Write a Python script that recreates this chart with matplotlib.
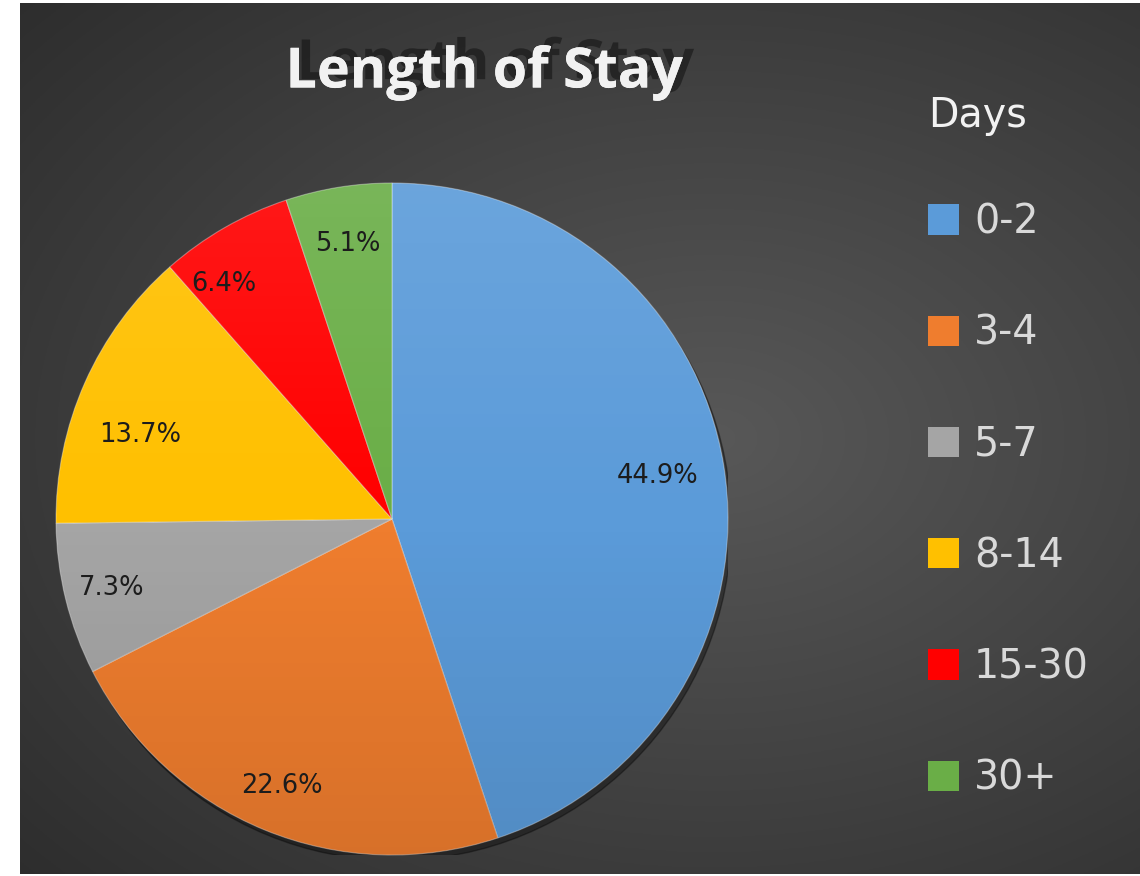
import numpy as np
import matplotlib
matplotlib.use("Agg")
import matplotlib.pyplot as plt
import matplotlib.patheffects as pe

# data
categories = ["0-2", "3-4", "5-7", "8-14", "15-30", "30+"]
shares = [44.9, 22.6, 7.3, 13.7, 6.4, 5.1]
colors = ["#5b9bd9", "#ef7d2e", "#a5a5a5", "#ffc000", "#ff0000", "#6aae47"]
label_dist = [0.80, 0.86, 0.86, 0.79, 0.86, 0.83]
label_shift = [0, 0, 0, 5.6, 5.7, 0]

W, H = 1140, 876
fig = plt.figure(figsize=(W / 100, H / 100), dpi=100, facecolor="white")

# dark radial background
bg = fig.add_axes([20 / W, 2 / H, 1 - 20 / W, 1 - 5 / H])
bg.set_axis_off()
yy, xx = np.mgrid[0:1:400j, 0:1:500j]
r = np.sqrt(((xx - 0.62) / 1.0) ** 2 + ((yy - 0.5) / 0.9) ** 2)
shade = np.clip(0.345 - 0.2 * r, 0.17, 0.35)
bg.imshow(np.dstack([shade] * 3), extent=[0, 1, 0, 1], aspect="auto", origin="lower")
bg.set_xlim(0, 1)
bg.set_ylim(0, 1)

# pie
cx, cy, rad = 392, 519, 336
ax = fig.add_axes([(cx - rad) / W, (H - cy - rad) / H, 2 * rad / W, 2 * rad / H])
ax.set_axis_off()
shadow = plt.Circle((0.01, -0.016), 1.0, color="black", alpha=0.35, zorder=0)
ax.add_patch(shadow)
wedges, _ = ax.pie(shares, colors=colors, startangle=90, counterclock=False,
                   radius=1.0, wedgeprops=dict(edgecolor=(1, 1, 1, 0.35), linewidth=0.8))

# soft vertical gradient over the pie
g = np.linspace(0, 1, 256)[:, None] * np.ones((1, 4))
over = np.zeros((256, 4, 4))
over[..., :3] = (g[..., None] > 0.5) * 1.0
over[..., 3] = np.abs(g - 0.5) * 0.2
im = ax.imshow(over, extent=[-1, 1, -1, 1], origin="lower", aspect="auto", zorder=3)
im.set_clip_path(plt.Circle((0, 0), 1.0, transform=ax.transData))
ax.set_xlim(-1, 1)
ax.set_ylim(-1, 1)

for w, v, d, s in zip(wedges, shares, label_dist, label_shift):
    mid = np.deg2rad((w.theta1 + w.theta2) / 2 + s)
    ax.text(d * np.cos(mid), d * np.sin(mid), f"{v:.1f}%", ha="center", va="center",
            fontsize=18.5, color="#1c1c1c", family="DejaVu Sans", zorder=5)

# title with shadow
fig.text(484 / W, 1 - 73 / H, "Length of Stay", ha="center", va="center",
         fontsize=40, fontweight="bold", family="Open Sans", color="#f2f2f2",
         path_effects=[pe.withSimplePatchShadow(offset=(8, 6), shadow_rgbFace="#111111", alpha=0.55),
                       pe.Normal()])

# legend
leg = fig.legend(wedges, categories, title="Days", loc="upper left",
                 bbox_to_anchor=(892 / W, 1 - 60 / H), frameon=False,
                 prop=dict(family="DejaVu Sans", size=28.5), labelcolor="#d9d9d9",
                 handlelength=0.8, handleheight=0.8, handletextpad=0.37,
                 labelspacing=1.80, title_fontproperties=dict(family="DejaVu Sans", size=28.5))
leg.get_title().set_color("#f2f2f2")
leg._legend_box.align = "left"
leg._legend_box.sep = 48
for h in leg.legend_handles:
    h.set_edgecolor("none")

fig.savefig("out.png", dpi=100, facecolor="white")
